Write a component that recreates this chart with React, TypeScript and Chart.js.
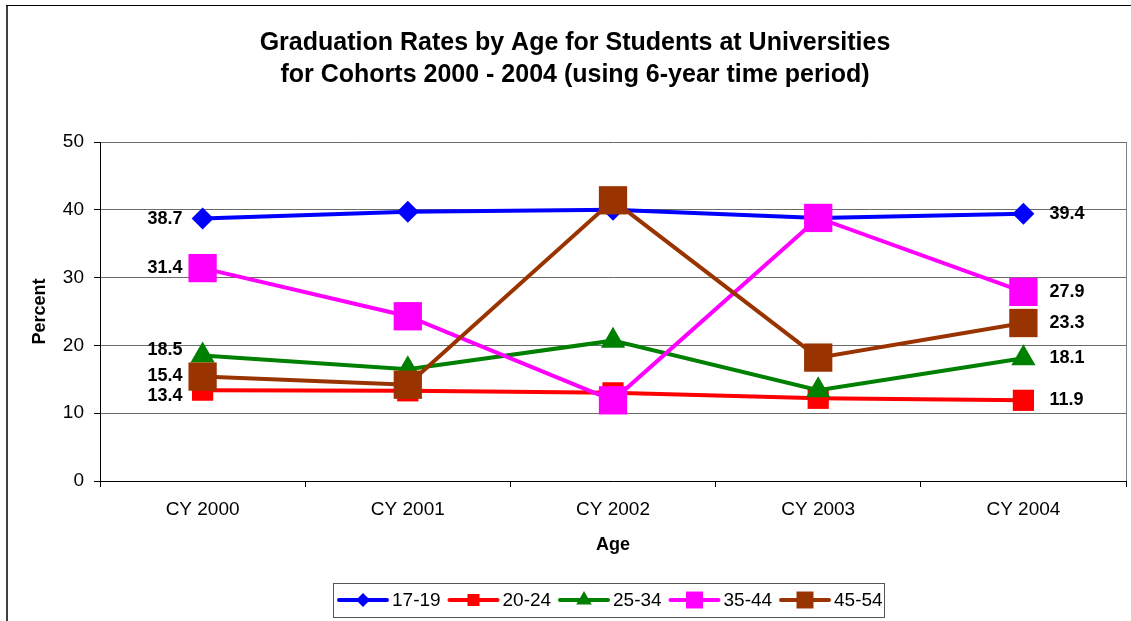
import React, { useEffect, useRef } from "react";
import { Chart, registerables } from "chart.js";

Chart.register(...registerables);

const categories = ["CY 2000", "CY 2001", "CY 2002", "CY 2003", "CY 2004"];
const seriesNames = ["17-19", "20-24", "25-34", "35-44", "45-54"];
const values1719 = [38.7, 39.7, 40.0, 38.8, 39.4];
const values2024 = [13.4, 13.3, 13.0, 12.2, 11.9];
const values2534 = [18.5, 16.5, 20.7, 13.4, 18.1];
const values3544 = [31.4, 24.3, 11.9, 38.8, 27.9];
const values4554 = [15.4, 14.2, 41.4, 18.2, 23.3];
const yTicks = [0, 10, 20, 30, 40, 50];

const titleLines = [
  "Graduation Rates by Age for Students at Universities",
  "for Cohorts 2000 - 2004 (using 6-year time period)",
];
const xTitle = "Age";
const yTitle = "Percent";

const colors = ["#0000FF", "#FF0000", "#008000", "#FF00FF", "#993300"];
const pointStyles = ["rectRot", "rect", "triangle", "rect", "rect"];
const pointRadii = [11, 15, 14, 20, 20];
// small vertical nudges of the first-point labels to avoid overlap
const firstLabelDy = [0, 6, -6, 0, -1];

const FONT = "'Liberation Sans', Arial, Helvetica, sans-serif";
const W = 1131;
const H = 621;

function drawMarker(ctx: CanvasRenderingContext2D, style: string, x: number, y: number, r: number, color: string) {
  ctx.save();
  ctx.fillStyle = color;
  ctx.beginPath();
  if (style === "rectRot") {
    ctx.moveTo(x - r, y);
    ctx.lineTo(x, y - r);
    ctx.lineTo(x + r, y);
    ctx.lineTo(x, y + r);
    ctx.closePath();
  } else if (style === "triangle") {
    for (let k = 0; k < 3; k++) {
      const a = (k * 2 * Math.PI) / 3;
      const px = x + Math.sin(a) * r;
      const py = y - Math.cos(a) * r;
      if (k === 0) ctx.moveTo(px, py);
      else ctx.lineTo(px, py);
    }
    ctx.closePath();
  } else {
    const s = r * Math.SQRT1_2;
    ctx.rect(x - s, y - s, 2 * s, 2 * s);
  }
  ctx.fill();
  ctx.restore();
}

const decorPlugin = {
  id: "decor",
  beforeDraw(chart: any) {
    const ctx = chart.ctx as CanvasRenderingContext2D;
    ctx.save();
    ctx.fillStyle = "#ffffff";
    ctx.fillRect(0, 0, W, H);
    // outer frame
    ctx.fillStyle = "#404040";
    ctx.fillRect(6, 5, 2, H - 5);
    ctx.fillStyle = "#000000";
    ctx.fillRect(6, 5, W - 6, 1);
    ctx.restore();
  },
  afterDraw(chart: any) {
    const ctx = chart.ctx as CanvasRenderingContext2D;
    const area = chart.chartArea;
    ctx.save();
    // right border of plot area
    ctx.strokeStyle = "#808080";
    ctx.lineWidth = 1;
    ctx.beginPath();
    ctx.moveTo(Math.round(area.right) + 0.5, area.top);
    ctx.lineTo(Math.round(area.right) + 0.5, area.bottom);
    ctx.stroke();

    // title
    ctx.fillStyle = "#000";
    ctx.textAlign = "center";
    ctx.textBaseline = "middle";
    ctx.font = `bold 25px ${FONT}`;
    ctx.fillText(titleLines[0], 575, 43);
    ctx.fillText(titleLines[1], 575, 75);

    // axis titles
    ctx.font = `bold 18px ${FONT}`;
    ctx.fillText(xTitle, (area.left + area.right) / 2, 545);
    ctx.save();
    ctx.translate(40, (area.top + area.bottom) / 2);
    ctx.rotate(-Math.PI / 2);
    ctx.fillText(yTitle, 0, 0);
    ctx.restore();

    // legend
    const lx = 333.5, ly = 583.5, lw = 551, lh = 34;
    ctx.strokeStyle = "#555";
    ctx.lineWidth = 1;
    ctx.strokeRect(lx, ly, lw, lh);
    const legendMarkerR = [7, 8.5, 9, 12, 12];
    ctx.font = `19px ${FONT}`;
    ctx.textAlign = "left";
    seriesNames.forEach((name, i) => {
      const x0 = 339 + i * 110.5;
      const y0 = 600;
      ctx.strokeStyle = colors[i];
      ctx.lineWidth = 4;
      ctx.lineCap = "round";
      ctx.beginPath();
      ctx.moveTo(x0, y0);
      ctx.lineTo(x0 + 48, y0);
      ctx.stroke();
      drawMarker(ctx, pointStyles[i], x0 + 24, y0, legendMarkerR[i], colors[i]);
      ctx.fillStyle = "#000";
      ctx.fillText(name, x0 + 53, y0 + 1);
    });
    ctx.restore();
  },
  afterDatasetsDraw(chart: any) {
    const ctx = chart.ctx as CanvasRenderingContext2D;
    ctx.save();
    ctx.font = `bold 18px ${FONT}`;
    ctx.fillStyle = "#000";
    ctx.textBaseline = "middle";
    chart.data.datasets.forEach((ds: any, i: number) => {
      const meta = chart.getDatasetMeta(i);
      const first = meta.data[0];
      const last = meta.data[meta.data.length - 1];
      ctx.textAlign = "right";
      ctx.fillText(ds.data[0].toFixed(1), first.x - 20, first.y + firstLabelDy[i]);
      ctx.textAlign = "left";
      ctx.fillText(ds.data[ds.data.length - 1].toFixed(1), last.x + 26, last.y);
    });
    ctx.restore();
  },
};

export default function App() {
  const ref = useRef<HTMLCanvasElement | null>(null);
  useEffect(() => {
    if (!ref.current) return;
    const allValues = [values1719, values2024, values2534, values3544, values4554];
    const chart = new Chart(ref.current, {
      type: "line",
      data: {
        labels: categories,
        datasets: seriesNames.map((name, i) => ({
          label: name,
          data: allValues[i],
          borderColor: colors[i],
          backgroundColor: colors[i],
          borderWidth: 4,
          pointStyle: pointStyles[i] as any,
          pointRadius: pointRadii[i],
          pointHoverRadius: pointRadii[i],
          pointBorderWidth: 0,
          pointBackgroundColor: colors[i],
          pointBorderColor: colors[i],
          fill: false,
          tension: 0,
          order: 4 - i,
        })),
      },
      plugins: [decorPlugin],
      options: {
        animation: false,
        responsive: false,
        maintainAspectRatio: false,
        events: [],
        layout: { autoPadding: false, padding: { left: 0, top: 142, right: 5, bottom: 0 } },
        plugins: {
          legend: { display: false },
          title: { display: false },
          tooltip: { enabled: false },
        },
        scales: {
          x: {
            type: "category",
            offset: true,
            afterFit: (scale: any) => {
              scale.height = 140;
              scale.paddingLeft = 0;
              scale.paddingRight = 0;
            },
            grid: {
              display: true,
              drawOnChartArea: false,
              drawTicks: true,
              tickLength: 6,
              tickColor: "#000",
              offset: true,
            },
            border: { display: true, color: "#000", width: 1 },
            ticks: {
              color: "#000",
              font: { family: FONT, size: 19 },
              padding: 11,
              maxRotation: 0,
              autoSkip: false,
            },
          },
          y: {
            min: 0,
            max: 50,
            afterFit: (scale: any) => {
              scale.width = 100;
              scale.paddingTop = 0;
              scale.paddingBottom = 0;
            },
            afterBuildTicks: (scale: any) => {
              scale.ticks = yTicks.map((v) => ({ value: v }));
            },
            grid: {
              color: "#6a6a6a",
              lineWidth: 1,
              drawTicks: true,
              tickLength: 6,
              tickColor: "#000",
            },
            border: { display: true, color: "#000", width: 1 },
            ticks: {
              color: "#000",
              font: { family: FONT, size: 19 },
              padding: 10,
            },
          },
        },
      },
    });
    return () => chart.destroy();
  }, []);

  return (
    <div style={{ position: "fixed", left: 0, top: 0, width: W, height: H, background: "#fff" }}>
      <canvas ref={ref} width={W} height={H} style={{ display: "block", width: W, height: H }} />
    </div>
  );
}
